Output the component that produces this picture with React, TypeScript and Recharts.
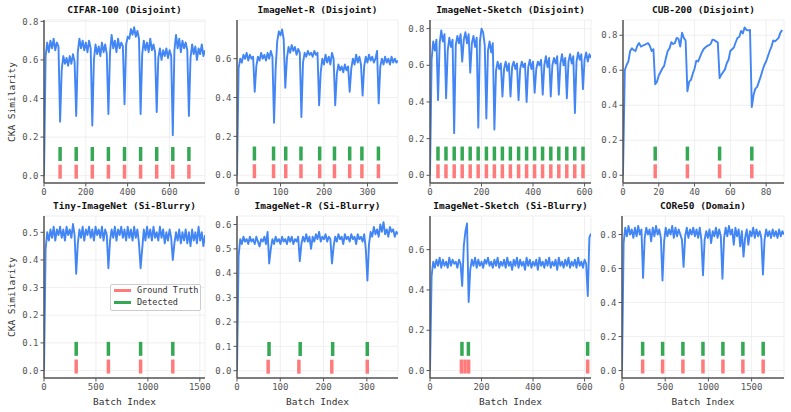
import React from 'react'
import {
  LineChart,
  Line,
  XAxis,
  YAxis,
  CartesianGrid,
  ReferenceLine
} from 'recharts'

const FONT = '"DejaVu Sans Mono", monospace'
const BLUE = '#4285f4'
const RED = '#ff7b7b'
const GREEN = '#34a853'

// CIFAR-100 (Disjoint), one reading every 7.7 batches
const cifarStep = 7.7
const cifarValues = [
  0.0, 0.62, 0.69, 0.64, 0.7, 0.66, 0.71, 0.65, 0.69, 0.67,
  0.28, 0.55, 0.62, 0.58, 0.61, 0.57, 0.62, 0.58, 0.63, 0.59,
  0.31, 0.64, 0.71, 0.66, 0.7, 0.65, 0.69, 0.64, 0.7, 0.66,
  0.26, 0.6, 0.68, 0.63, 0.67, 0.62, 0.69, 0.64, 0.68, 0.63,
  0.32, 0.64, 0.73, 0.66, 0.7, 0.64, 0.71, 0.66, 0.69, 0.67,
  0.37, 0.68, 0.72, 0.71, 0.76, 0.73, 0.77, 0.72, 0.75, 0.71,
  0.32, 0.63, 0.7, 0.65, 0.69, 0.64, 0.71, 0.65, 0.68, 0.64,
  0.33, 0.61, 0.66, 0.6, 0.65, 0.62, 0.66, 0.61, 0.65, 0.62,
  0.21, 0.65, 0.73, 0.66, 0.71, 0.64, 0.7, 0.66, 0.69, 0.65,
  0.31, 0.61, 0.68, 0.63, 0.67, 0.6, 0.66, 0.63, 0.68, 0.62, 0.65
]
const cifarTruth = [77, 154, 231, 308, 385, 462, 539, 616, 693]
const cifarDetected = [77, 154, 231, 308, 385, 462, 539, 616, 693]

// ImageNet-R (Disjoint), every 3.7 batches
const inrStep = 3.7
const inrValues = [
  0.0, 0.55, 0.6, 0.58, 0.62, 0.6, 0.63, 0.59, 0.62, 0.6, 0.61,
  0.43, 0.56, 0.61, 0.59, 0.63, 0.6, 0.62, 0.59, 0.63, 0.6, 0.64, 0.61,
  0.27, 0.55, 0.69, 0.74, 0.72, 0.75, 0.7,
  0.45, 0.6, 0.66, 0.63, 0.67, 0.64, 0.66, 0.62, 0.65, 0.63,
  0.3, 0.58, 0.63, 0.61, 0.64, 0.62, 0.63, 0.61, 0.64, 0.62, 0.63,
  0.36, 0.53, 0.6, 0.57, 0.62, 0.58, 0.61, 0.57, 0.63, 0.6,
  0.36, 0.52, 0.57, 0.54, 0.56, 0.53, 0.57, 0.54, 0.56,
  0.43, 0.55, 0.6, 0.57, 0.62, 0.58, 0.61, 0.57,
  0.41, 0.56, 0.61, 0.58, 0.62, 0.59, 0.61, 0.58, 0.6, 0.64,
  0.37, 0.56, 0.6, 0.57, 0.61, 0.58, 0.6, 0.57, 0.61, 0.58, 0.6, 0.58, 0.59
]
const inrTruth = [40, 84, 112, 147, 190, 224, 259, 287, 325]
const inrDetected = [40, 84, 112, 147, 190, 224, 259, 287, 325]

// ImageNet-Sketch (Disjoint), every 6.25 batches
const insStep = 6.25
const insValues = [
  0.0, 0.63, 0.73, 0.68, 0.74,
  0.41, 0.72, 0.79, 0.73, 0.77,
  0.42, 0.68, 0.75, 0.7, 0.74,
  0.23, 0.71, 0.76, 0.72, 0.77,
  0.62, 0.74, 0.78, 0.72, 0.77,
  0.56, 0.72, 0.76, 0.7, 0.75,
  0.26, 0.73, 0.8, 0.78, 0.71,
  0.31, 0.68, 0.73, 0.67, 0.72,
  0.25, 0.57, 0.62, 0.58, 0.61,
  0.43, 0.58, 0.62, 0.57, 0.61,
  0.43, 0.59, 0.62, 0.58, 0.61,
  0.41, 0.58, 0.62, 0.59, 0.61,
  0.4, 0.59, 0.63, 0.58, 0.62,
  0.45, 0.58, 0.62, 0.6, 0.63,
  0.44, 0.6, 0.65, 0.59, 0.64,
  0.43, 0.6, 0.64, 0.61, 0.65,
  0.44, 0.61, 0.66, 0.6, 0.64,
  0.42, 0.62, 0.66, 0.61, 0.65,
  0.34, 0.62, 0.67, 0.63, 0.66,
  0.47, 0.63, 0.67, 0.62, 0.66, 0.64
]
const insTruth = [
  31, 62, 94, 125, 156, 187, 219, 250, 281, 312, 344, 375, 406, 437, 469,
  500, 531, 562, 594
]
const insDetected = insTruth

// CUB-200 (Disjoint), every batch
const cubStep = 1
const cubValues = [
  0.0, 0.6, 0.63, 0.65, 0.71, 0.725, 0.715, 0.71, 0.74, 0.755,
  0.735, 0.74, 0.745, 0.75, 0.755, 0.74, 0.71, 0.72, 0.52, 0.535,
  0.57, 0.59, 0.61, 0.625, 0.67, 0.71, 0.725, 0.76, 0.75, 0.755,
  0.785, 0.78, 0.735, 0.815, 0.785, 0.77, 0.48, 0.535, 0.545, 0.58,
  0.61, 0.655, 0.65, 0.675, 0.7, 0.72, 0.73, 0.738, 0.743, 0.75,
  0.775, 0.772, 0.765, 0.758, 0.555, 0.575, 0.59, 0.605, 0.64, 0.66,
  0.71, 0.72, 0.73, 0.76, 0.785, 0.79, 0.825, 0.81, 0.845, 0.83,
  0.828, 0.83, 0.39, 0.46, 0.495, 0.505, 0.535, 0.565, 0.6, 0.63,
  0.65, 0.68, 0.71, 0.735, 0.77, 0.765, 0.775, 0.785, 0.815, 0.83
]
const cubTruth = [18, 36, 54, 72]
const cubDetected = [18, 36, 54, 72]

// Tiny-ImageNet (Si-Blurry), every 15.5 batches
const tinyStep = 15.5
const tinyValues = [
  0.0, 0.44, 0.5, 0.47, 0.51, 0.48, 0.52, 0.47, 0.51, 0.49, 0.52,
  0.48, 0.51, 0.47, 0.52, 0.49, 0.51, 0.48, 0.53, 0.49,
  0.35, 0.46, 0.51, 0.48, 0.52, 0.47, 0.51, 0.49, 0.52, 0.48, 0.51,
  0.47, 0.52, 0.49, 0.51, 0.48, 0.52, 0.47, 0.51, 0.49,
  0.37, 0.47, 0.51, 0.48, 0.52, 0.47, 0.51, 0.49, 0.52, 0.48, 0.51,
  0.47, 0.52, 0.48, 0.51, 0.47, 0.52, 0.48, 0.51, 0.46,
  0.37, 0.44, 0.51, 0.47, 0.52, 0.48, 0.51, 0.47, 0.52, 0.48, 0.5,
  0.47, 0.52, 0.48, 0.51, 0.46, 0.5, 0.47, 0.51, 0.48,
  0.4, 0.46, 0.5, 0.47, 0.51, 0.46, 0.5, 0.47, 0.51, 0.46, 0.5,
  0.45, 0.51, 0.47, 0.5, 0.46, 0.52, 0.47, 0.5, 0.45, 0.49
]
const tinyTruth = [310, 620, 930, 1240]
const tinyDetected = [310, 620, 930, 1240]

// ImageNet-R (Si-Blurry), every 3.72 batches
const inrbStep = 3.72
const inrbValues = [
  0.0, 0.47, 0.54, 0.52, 0.55, 0.53, 0.54, 0.52, 0.55, 0.53, 0.54,
  0.52, 0.55, 0.53, 0.51, 0.54, 0.53, 0.55, 0.52, 0.57,
  0.44, 0.5, 0.54, 0.52, 0.55, 0.53, 0.54, 0.52, 0.55, 0.53, 0.54,
  0.52, 0.55, 0.53, 0.55, 0.52, 0.54, 0.53, 0.55,
  0.45, 0.52, 0.55, 0.53, 0.56, 0.53, 0.55, 0.5, 0.55, 0.53, 0.56,
  0.54, 0.57, 0.53, 0.55, 0.54, 0.56, 0.53, 0.55, 0.54,
  0.44, 0.51, 0.55, 0.53, 0.56, 0.54, 0.55, 0.52, 0.56, 0.54, 0.55,
  0.53, 0.56, 0.54, 0.55, 0.52, 0.56, 0.54, 0.55, 0.53, 0.56, 0.5,
  0.37, 0.52, 0.57, 0.55, 0.59, 0.56, 0.58, 0.55, 0.6, 0.57, 0.61,
  0.56, 0.58, 0.55, 0.59, 0.57, 0.58, 0.55, 0.57, 0.56
]
const inrbTruth = [72, 143, 219, 301]
const inrbDetected = [74, 146, 221, 301]

// ImageNet-Sketch (Si-Blurry), every 6.25 batches
const insbStep = 6.25
const insbValues = [
  0.0, 0.47, 0.54, 0.51, 0.55, 0.52, 0.56, 0.51, 0.55, 0.52, 0.54,
  0.51, 0.56, 0.52, 0.55, 0.53, 0.54, 0.51, 0.55, 0.53,
  0.42, 0.62, 0.69, 0.73, 0.34,
  0.5, 0.55, 0.52, 0.56, 0.51, 0.55, 0.52, 0.54, 0.51, 0.55,
  0.53, 0.56, 0.52, 0.54, 0.51, 0.55, 0.52, 0.56, 0.51, 0.54,
  0.52, 0.55, 0.51, 0.56, 0.52, 0.54, 0.5, 0.55, 0.52, 0.56,
  0.51, 0.55, 0.52, 0.54, 0.5, 0.56, 0.52, 0.55, 0.51, 0.54,
  0.52, 0.55, 0.5, 0.56, 0.52, 0.54, 0.51, 0.55, 0.52, 0.56,
  0.51, 0.54, 0.52, 0.55, 0.5, 0.56, 0.52, 0.54, 0.51, 0.55,
  0.52, 0.56, 0.51, 0.54, 0.52, 0.55, 0.51, 0.56, 0.52, 0.54,
  0.51, 0.55, 0.53,
  0.37, 0.66, 0.68
]
const insbTruth = [122, 136, 150, 612]
const insbDetected = [124, 149, 612]

// CORe50 (Domain), every 18.75 batches
const coreStep = 18.75
const coreValues = [
  0.0, 0.75, 0.84, 0.79, 0.85, 0.8, 0.83, 0.78, 0.84, 0.79, 0.85, 0.8, 0.83,
  0.545, 0.78, 0.84, 0.8, 0.83, 0.76, 0.84, 0.79, 0.85, 0.8, 0.83, 0.78,
  0.53, 0.76, 0.84, 0.79, 0.83, 0.8, 0.85, 0.78, 0.84, 0.79, 0.83, 0.8, 0.77,
  0.61, 0.79, 0.84, 0.78, 0.83, 0.8, 0.84, 0.79, 0.83, 0.78, 0.84, 0.77,
  0.56, 0.77, 0.82, 0.78, 0.83, 0.75, 0.82, 0.79, 0.84, 0.78, 0.83, 0.79,
  0.54, 0.78, 0.84, 0.79, 0.85, 0.8, 0.83, 0.74, 0.84, 0.79, 0.83, 0.73, 0.82,
  0.67, 0.78, 0.83, 0.74, 0.82, 0.79, 0.84, 0.78, 0.83, 0.79, 0.82, 0.78,
  0.565, 0.77, 0.83, 0.79, 0.82, 0.78, 0.83, 0.79, 0.82, 0.78, 0.83, 0.79, 0.82, 0.8
]
const coreTruth = [239, 470, 705, 937, 1168, 1399, 1634]
const coreDetected = [239, 470, 705, 937, 1168, 1399, 1634]

type PanelProps = {
  title: string
  values: number[]
  step: number
  truth: number[]
  detected: number[]
  xMax: number
  yMin: number
  yMax: number
  xTicks: number[]
  yTicks: number[]
  left: number
  top: number
  width: number
  height: number
  showXLabel?: boolean
  showYLabel?: boolean
}

const Y_AXIS_W = 40
const PAD_TOP = 4
const PAD_RIGHT = 14
const X_AXIS_H = 24

const Panel: React.FC<PanelProps> = (p) => {
  const rows = p.values.map((v, i) => ({ x: i * p.step, y: v }))
  // event bars have a fixed pixel height above the zero line
  const perPx = (p.yMax - p.yMin) / p.height
  const bar = (x: number, from: number, to: number, color: string, k: string) => (
    <ReferenceLine
      key={k}
      segment={[
        { x, y: from * perPx },
        { x, y: to * perPx }
      ]}
      stroke={color}
      strokeWidth={3.5}
      ifOverflow="visible"
    />
  )
  const tickStyle = { fontSize: 9, fill: '#555', fontFamily: FONT }

  return (
    <>
      <div
        style={{
          position: 'absolute',
          left: p.left,
          width: p.width,
          top: p.top - 16,
          textAlign: 'center',
          fontFamily: FONT,
          fontWeight: 'bold',
          fontSize: 9.5,
          color: '#111',
          lineHeight: '12px'
        }}
      >
        {p.title}
      </div>
      <div
        style={{
          position: 'absolute',
          left: p.left - Y_AXIS_W,
          top: p.top - PAD_TOP
        }}
      >
        <LineChart
          width={p.width + Y_AXIS_W + PAD_RIGHT}
          height={p.height + PAD_TOP + X_AXIS_H}
          data={rows}
          margin={{ top: PAD_TOP, right: PAD_RIGHT, left: 0, bottom: 0 }}
        >
          <CartesianGrid stroke="#ebebeb" strokeWidth={0.8} />
          <XAxis
            type="number"
            dataKey="x"
            domain={[0, p.xMax]}
            ticks={p.xTicks}
            allowDataOverflow
            height={X_AXIS_H}
            tickSize={3.5}
            tickMargin={2}
            tick={tickStyle}
            axisLine={{ stroke: '#555', strokeWidth: 1.5 }}
            tickLine={{ stroke: '#555' }}
          />
          <YAxis
            type="number"
            domain={[p.yMin, p.yMax]}
            ticks={p.yTicks}
            allowDataOverflow
            width={Y_AXIS_W}
            tickSize={3.5}
            tickMargin={2}
            tick={tickStyle}
            tickFormatter={(v: number) => v.toFixed(1)}
            axisLine={{ stroke: '#555', strokeWidth: 1.5 }}
            tickLine={{ stroke: '#555' }}
          />
          {p.truth.map((e, i) => bar(e, -3, 11, RED, 't' + i))}
          {p.detected.map((e, i) => bar(e, 14.7, 28.7, GREEN, 'd' + i))}
          <Line
            type="linear"
            dataKey="y"
            stroke={BLUE}
            strokeWidth={1.9}
            strokeLinejoin="round"
            dot={false}
            isAnimationActive={false}
          />
        </LineChart>
      </div>
      {p.showXLabel && (
        <div
          style={{
            position: 'absolute',
            left: p.left,
            width: p.width,
            top: p.top + p.height + 18,
            textAlign: 'center',
            fontFamily: FONT,
            fontSize: 9.5,
            color: '#333',
            lineHeight: '12px'
          }}
        >
          Batch Index
        </div>
      )}
      {p.showYLabel && (
        <div
          style={{
            position: 'absolute',
            left: 11.5 - 50,
            top: p.top + p.height / 2 - 6,
            width: 100,
            textAlign: 'center',
            transform: 'rotate(-90deg)',
            fontFamily: FONT,
            fontSize: 9.5,
            color: '#333',
            lineHeight: '12px'
          }}
        >
          CKA Similarity
        </div>
      )}
    </>
  )
}

const Legend = () => (
  <div
    style={{
      position: 'absolute',
      left: 110,
      top: 284,
      width: 89,
      height: 25,
      border: '1px solid #ccc',
      borderRadius: 2,
      background: 'rgba(255,255,255,0.85)',
      fontFamily: FONT,
      fontSize: 8.5,
      color: '#333'
    }}
  >
    {[
      { label: 'Ground Truth', color: RED, y: 5 },
      { label: 'Detected', color: GREEN, y: 17 }
    ].map((it) => (
      <div key={it.label}>
        <div
          style={{
            position: 'absolute',
            left: 3,
            top: it.y - 1.5,
            width: 17,
            height: 3.5,
            background: it.color
          }}
        />
        <div
          style={{
            position: 'absolute',
            left: 26,
            top: it.y - 6,
            lineHeight: '12px',
            whiteSpace: 'nowrap'
          }}
        >
          {it.label}
        </div>
      </div>
    ))}
  </div>
)

const App: React.FC = () => {
  const r1 = { top: 20, height: 163 }
  const r2 = { top: 216, height: 162 }
  return (
    <div
      style={{
        position: 'absolute',
        left: 0,
        top: 0,
        width: 791,
        height: 412,
        background: '#fff',
        overflow: 'hidden'
      }}
    >
      <Panel
        title="CIFAR-100 (Disjoint)"
        values={cifarValues}
        step={cifarStep}
        truth={cifarTruth}
        detected={cifarDetected}
        xMax={770}
        yMin={-0.038}
        yMax={0.807}
        xTicks={[0, 200, 400, 600]}
        yTicks={[0, 0.2, 0.4, 0.6, 0.8]}
        left={44}
        width={161}
        {...r1}
        showYLabel
      />
      <Panel
        title="ImageNet-R (Disjoint)"
        values={inrValues}
        step={inrStep}
        truth={inrTruth}
        detected={inrDetected}
        xMax={370}
        yMin={-0.04}
        yMax={0.799}
        xTicks={[0, 100, 200, 300]}
        yTicks={[0, 0.2, 0.4, 0.6]}
        left={237}
        width={161}
        {...r1}
      />
      <Panel
        title="ImageNet-Sketch (Disjoint)"
        values={insValues}
        step={insStep}
        truth={insTruth}
        detected={insDetected}
        xMax={625}
        yMin={-0.042}
        yMax={0.847}
        xTicks={[0, 200, 400, 600]}
        yTicks={[0, 0.2, 0.4, 0.6, 0.8]}
        left={430}
        width={161}
        {...r1}
      />
      <Panel
        title="CUB-200 (Disjoint)"
        values={cubValues}
        step={cubStep}
        truth={cubTruth}
        detected={cubDetected}
        xMax={90}
        yMin={-0.044}
        yMax={0.887}
        xTicks={[0, 20, 40, 60, 80]}
        yTicks={[0, 0.2, 0.4, 0.6, 0.8]}
        left={623}
        width={161}
        {...r1}
      />
      <Panel
        title="Tiny-ImageNet (Si-Blurry)"
        values={tinyValues}
        step={tinyStep}
        truth={tinyTruth}
        detected={tinyDetected}
        xMax={1550}
        yMin={-0.027}
        yMax={0.559}
        xTicks={[0, 500, 1000, 1500]}
        yTicks={[0, 0.1, 0.2, 0.3, 0.4, 0.5]}
        left={44}
        width={161}
        {...r2}
        showXLabel
        showYLabel
      />
      <Panel
        title="ImageNet-R (Si-Blurry)"
        values={inrbValues}
        step={inrbStep}
        truth={inrbTruth}
        detected={inrbDetected}
        xMax={372}
        yMin={-0.03}
        yMax={0.635}
        xTicks={[0, 100, 200, 300]}
        yTicks={[0, 0.1, 0.2, 0.3, 0.4, 0.5, 0.6]}
        left={237}
        width={161}
        {...r2}
        showXLabel
      />
      <Panel
        title="ImageNet-Sketch (Si-Blurry)"
        values={insbValues}
        step={insbStep}
        truth={insbTruth}
        detected={insbDetected}
        xMax={625}
        yMin={-0.037}
        yMax={0.767}
        xTicks={[0, 200, 400, 600]}
        yTicks={[0, 0.2, 0.4, 0.6]}
        left={430}
        width={161}
        {...r2}
        showXLabel
      />
      <Panel
        title="CORe50 (Domain)"
        values={coreValues}
        step={coreStep}
        truth={coreTruth}
        detected={coreDetected}
        xMax={1875}
        yMin={-0.044}
        yMax={0.909}
        xTicks={[0, 500, 1000, 1500]}
        yTicks={[0, 0.2, 0.4, 0.6, 0.8]}
        left={622}
        width={162}
        {...r2}
        showXLabel
      />
      <Legend />
    </div>
  )
}

export default App
